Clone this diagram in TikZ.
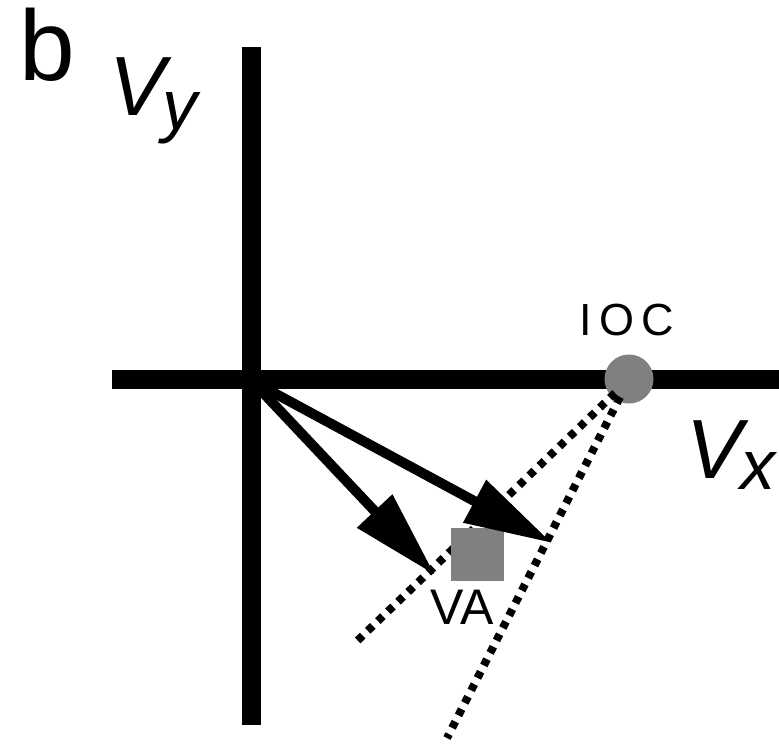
\documentclass[tikz,border=0pt]{standalone}
\usepackage{fontspec}
\setmainfont{Liberation Sans}
\usetikzlibrary{arrows.meta}
\definecolor{markgray}{RGB}{128,128,128}
\begin{document}
\begin{tikzpicture}[x=1pt,y=-1pt,
  axis/.style={line width=19pt},
  vec/.style={line width=10pt,-{Triangle[length=88pt,width=46pt]}},
  constraint/.style={line width=8pt,dash pattern=on 7pt off 7pt},
  lbl/.style={inner sep=0pt,text=black}]
\useasboundingbox (0,0) rectangle (779,745);
% axes
\coordinate (ytop) at (251.5,47);
\coordinate (ybot) at (251.5,725);
\coordinate (xleft) at (112,379.5);
\coordinate (xright) at (779,379.5);
\coordinate (O) at (252,381);
\draw[axis] (ytop) -- (ybot);
\draw[axis] (xleft) -- (xright);
% IOC point
\node[circle,fill=markgray,minimum size=49pt,inner sep=0pt] (ioc) at (629,379) {};
% constraint lines
\coordinate (c1) at (355,643);
\coordinate (c2) at (447,738);
\draw[constraint] (ioc.center) ++(-14,14) -- (c1);
\draw[constraint] (ioc.center) ++(-9,18) -- (c2);
% VA square
\node[rectangle,fill=markgray,minimum size=53pt,inner sep=0pt] (va) at (477.5,554) {};
% vectors
\coordinate (t1) at (435,575);
\coordinate (t2) at (552,543);
\draw[vec] (O) -- (t1);
\draw[vec] (O) -- (t2);
% labels
\node[lbl,anchor=base west] (b) at (19,80) {\fontsize{100}{100}\selectfont b};
\node[lbl,anchor=base west] (vy) at (109,115) {\fontsize{84}{84}\selectfont\itshape V\kern-3pt\raisebox{-14pt}{\fontsize{70}{70}\selectfont y}};
\node[lbl,anchor=base west] (vx) at (686,478) {\fontsize{84}{84}\selectfont\itshape V\kern-2pt\raisebox{-11pt}{\fontsize{70}{70}\selectfont x}};
\node[lbl,anchor=base] (ioclbl) at (626.5,335) {\fontsize{45}{45}\selectfont I\kern8pt O\kern7pt C};
\node[lbl,anchor=base] (valbl) at (462,624) {\fontsize{50}{50}\selectfont VA};
\end{tikzpicture}
\end{document}
